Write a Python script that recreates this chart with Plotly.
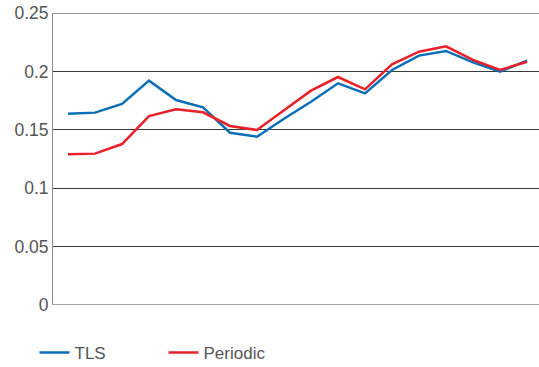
import plotly.graph_objects as go

categories = list(range(18))
tls = [0.1638, 0.1647, 0.1721, 0.1921, 0.1755, 0.1692, 0.1475, 0.1441, 0.1595,
       0.1740, 0.1898, 0.1812, 0.2012, 0.2135, 0.2175, 0.2078, 0.1998, 0.2092]
periodic = [0.1290, 0.1296, 0.1378, 0.1618, 0.1675, 0.1650, 0.1533, 0.1498, 0.1667,
            0.1835, 0.1952, 0.1846, 0.2060, 0.2169, 0.2215, 0.2098, 0.2012, 0.2083]
y_ticks = [0, 0.05, 0.1, 0.15, 0.2, 0.25]
y_labels = ["0", "0.05", "0.1", "0.15", "0.2", "0.25"]

fig = go.Figure()
fig.add_trace(go.Scatter(x=categories, y=tls, mode="lines", name="TLS",
                         line=dict(color="#0a6fb7", width=2.5)))
fig.add_trace(go.Scatter(x=categories, y=periodic, mode="lines", name="Periodic",
                         line=dict(color="#e8202a", width=2.5)))

fig.update_layout(
    template="none",
    width=539, height=367,
    margin=dict(l=53, r=0, t=13, b=62, autoexpand=False),
    paper_bgcolor="white", plot_bgcolor="white",
    font=dict(family="Liberation Sans, Arial, sans-serif", color="#555555", size=17),
    xaxis=dict(range=[-0.556, 17.444], showticklabels=False, showgrid=False,
               zeroline=False, showline=False, ticks="", automargin=False),
    yaxis=dict(range=[0, 0.25], tickvals=y_ticks, ticktext=y_labels,
               showgrid=True, gridcolor="#3a3a3a", gridwidth=1,
               zeroline=False, showline=True, linecolor="#888888", linewidth=1,
               ticks="", ticklen=0, automargin=False, ticklabeloverflow="allow",
               tickfont=dict(size=17.5, color="#555555")),
    legend=dict(orientation="h", xref="container", yref="container",
                x=0.064, y=0.038, xanchor="left", yanchor="middle",
                entrywidth=84, entrywidthmode="pixels",
                font=dict(size=17, color="#555555"), bgcolor="rgba(0,0,0,0)"),
    showlegend=True,
)
fig.add_hline(y=0, line=dict(color="#888888", width=1.5))
fig.add_hline(y=y_ticks[-1], line=dict(color="#3a3a3a", width=1))

fig.write_html("out.html", config={"displayModeBar": False},
               post_script="document.body.style.margin='0';document.body.style.padding='0';")
